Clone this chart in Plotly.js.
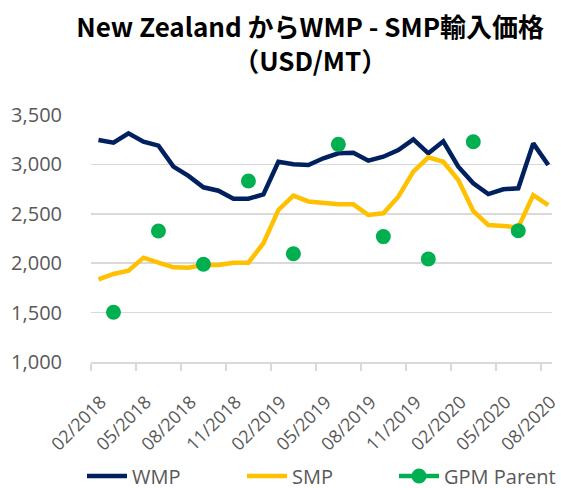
<!DOCTYPE html>
<html>
<head>
<meta charset="utf-8">
<script src="https://cdn.plot.ly/plotly-3.0.1.min.js"></script>
<style>html,body{margin:0;padding:0;background:#fff;}#chart{width:561px;height:488px;}</style>
</head>
<body>
<div id="chart"></div>
<script>
// Months Feb 2018 .. Aug 2020
const months = ["02/2018","03/2018","04/2018","05/2018","06/2018","07/2018","08/2018","09/2018","10/2018","11/2018","12/2018",
  "01/2019","02/2019","03/2019","04/2019","05/2019","06/2019","07/2019","08/2019","09/2019","10/2019","11/2019","12/2019",
  "01/2020","02/2020","03/2020","04/2020","05/2020","06/2020","07/2020","08/2020"];
const wmp = [3247,3220,3315,3230,3190,2977,2883,2768,2734,2653,2653,2697,3027,3001,2994,3062,3112,3118,3038,3078,3146,3254,3112,3234,2977,2809,2700,2748,2758,3213,2994];
const smp = [1837,1891,1925,2056,2005,1958,1955,1982,1982,2005,2005,2202,2539,2684,2625,2606,2596,2596,2488,2505,2673,2926,3072,3027,2842,2528,2387,2377,2363,2690,2589];
const gpm = [null,1503,null,null,2326,null,null,1989,null,null,2832,null,null,2096,null,null,3203,null,null,2269,null,null,2043,null,null,3230,null,null,2329,null,null];
const tickLabels = ["02/2018","05/2018","08/2018","11/2018","02/2019","05/2019","08/2019","11/2019","02/2020","05/2020","08/2020"];
const yTicks = [1000,1500,2000,2500,3000,3500];

// each month occupies one slot; points sit in the middle of their slot
const xs = months.map((m, i) => i + 0.5);
const tickPos = tickLabels.map(l => months.indexOf(l));

const FONT = "'Open Sans', 'Liberation Sans', sans-serif";
const traces = [
  {x: xs, y: wmp, name: "WMP", type: "scatter", mode: "lines", legend: "legend",
   line: {color: "#002060", width: 4.5}},
  {x: xs, y: smp, name: "SMP", type: "scatter", mode: "lines", legend: "legend2",
   line: {color: "#FFC000", width: 4.5}},
  {x: xs, y: gpm, name: "GPM Parent", type: "scatter", mode: "lines+markers", legend: "legend3",
   connectgaps: false,
   line: {color: "#00B050", width: 4.5},
   marker: {color: "#00B050", size: 15}}
];

function leg(px) {
  return {
    orientation: "h",
    xref: "container", yref: "container",
    x: px / 561, xanchor: "left",
    y: 12 / 488, yanchor: "middle",
    bgcolor: "rgba(0,0,0,0)",
    font: {family: FONT, size: 20, color: "#595959"},
    itemwidth: 40
  };
}

const layout = {
  width: 561, height: 488,
  paper_bgcolor: "#fff", plot_bgcolor: "#fff",
  margin: {l: 91, r: 9, t: 115, b: 126},
  title: {
    text: "<b>New Zealand からWMP - SMP輸入価格<br>（USD/MT）</b>",
    font: {family: "'Noto Sans CJK JP', sans-serif", size: 26, color: "#000"},
    x: 0.553, xanchor: "center", xref: "container",
    y: 0.924, yanchor: "middle", yref: "container"
  },
  xaxis: {
    range: [0, 30.75],
    tickmode: "array", tickvals: tickPos, ticktext: tickLabels,
    tickangle: -45,
    tickfont: {family: FONT, size: 18, color: "#595959"},
    ticklabelshift: 10, ticklabelstandoff: 14,
    showgrid: false, zeroline: false,
    showline: true, linecolor: "#d9d9d9", linewidth: 1.5,
    ticks: "outside", ticklen: 7, tickcolor: "#d9d9d9", tickwidth: 1.5,
    fixedrange: true
  },
  yaxis: {
    range: [1000, 3500],
    tickmode: "array", tickvals: yTicks, ticktext: yTicks.map(v => v.toLocaleString("en-US")),
    tickfont: {family: FONT, size: 20, color: "#595959"},
    showgrid: true, gridcolor: "#d9d9d9", gridwidth: 1.5,
    zeroline: false, showline: false,
    ticks: "outside", ticklen: 24, tickcolor: "rgba(0,0,0,0)",
    fixedrange: true
  },
  showlegend: true,
  legend: leg(82),
  legend2: leg(242),
  legend3: leg(394)
};

Plotly.newPlot("chart", traces, layout, {displayModeBar: false, staticPlot: true});
</script>
</body>
</html>
